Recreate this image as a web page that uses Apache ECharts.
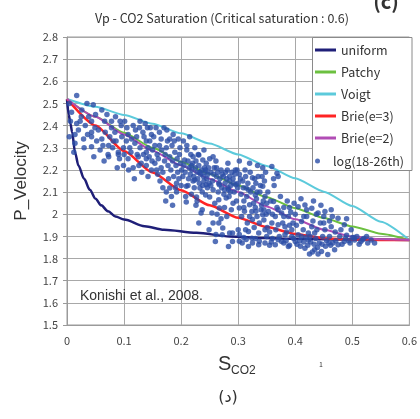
<!DOCTYPE html>
<html>
<head>
<meta charset="utf-8">
<script src="https://cdn.jsdelivr.net/npm/echarts@6/dist/echarts.min.js"></script>
<style>html,body{margin:0;padding:0;background:#fff}#c{width:420px;height:419px}</style>
</head>
<body>
<div id="c"></div>
<script>
// ---- data ----
var xTicks = [0, 0.1, 0.2, 0.3, 0.4, 0.5, 0.6];
var yTicks = [1.5, 1.6, 1.7, 1.8, 1.9, 2, 2.1, 2.2, 2.3, 2.4, 2.5, 2.6, 2.7, 2.8];

var uniformS  = [0, 0.003, 0.006, 0.009, 0.014, 0.02, 0.03, 0.04, 0.05, 0.06, 0.072, 0.085, 0.1, 0.136, 0.17, 0.227, 0.285, 0.343, 0.4, 0.5, 0.6];
var uniformVp = [2.52, 2.45, 2.41, 2.37, 2.28, 2.22, 2.16, 2.11, 2.07, 2.04, 2.013, 1.99, 1.976, 1.946, 1.93, 1.916, 1.90, 1.893, 1.889, 1.886, 1.884];

var patchyS  = [0, 0.05, 0.1, 0.15, 0.2, 0.25, 0.3, 0.35, 0.4, 0.45, 0.5, 0.55, 0.6];
var patchyVp = [2.52, 2.44, 2.368, 2.30, 2.237, 2.182, 2.13, 2.077, 2.027, 1.983, 1.945, 1.912, 1.884];

var voigtS  = [0, 0.05, 0.1, 0.15, 0.2, 0.25, 0.3, 0.35, 0.4, 0.45, 0.5, 0.55, 0.6];
var voigtVp = [2.52, 2.485, 2.448, 2.408, 2.365, 2.319, 2.27, 2.218, 2.162, 2.102, 2.037, 1.966, 1.884];

var brie3S  = [0, 0.05, 0.1, 0.15, 0.2, 0.25, 0.3, 0.35, 0.4, 0.45, 0.5, 0.55, 0.6];
var brie3Vp = [2.52, 2.40, 2.285, 2.188, 2.108, 2.04, 1.984, 1.942, 1.911, 1.892, 1.885, 1.884, 1.884];

var brie2S  = [0, 0.05, 0.1, 0.15, 0.2, 0.25, 0.3, 0.35, 0.4, 0.45, 0.5, 0.55, 0.6];
var brie2Vp = [2.52, 2.44, 2.36, 2.287, 2.22, 2.16, 2.10, 2.035, 1.977, 1.93, 1.899, 1.887, 1.884];

var logPoints = [
[0.004,2.50],[0.017,2.536],[0.035,2.50],[0.046,2.494],[0.006,2.42],[0.017,2.41],[0.032,2.40],[0.043,2.42],[0.049,2.39],[0.014,2.36],[0.029,2.34],[0.043,2.35],[0.023,2.42],[0.02,2.38],[0.014,2.32],[0.043,2.305],[0.043,2.37],[0.008,2.46],[0.026,2.47],[0.038,2.44],[0.012,2.28],[0.03,2.30],[0.047,2.26],[0.025,2.44],[0.004,2.35],[0.036,2.36],[0.05,2.45],
[0.052,2.33],[0.061,2.47],[0.061,2.34],[0.063,2.31],[0.067,2.37],[0.072,2.27],[0.073,2.31],[0.073,2.26],[0.078,2.42],[0.078,2.39],[0.081,2.33],[0.084,2.37],[0.086,2.33],[0.09,2.28],[0.09,2.27],[0.093,2.42],[0.096,2.35],[0.099,2.30],[0.099,2.22],[0.058,2.29],[0.066,2.42],[0.07,2.45],[0.085,2.44],[0.092,2.25],[0.055,2.38],[0.08,2.30],[0.095,2.40],[0.088,2.21],[0.075,2.35],[0.065,2.24],
[0.101,2.42],[0.107,2.36],[0.107,2.25],[0.113,2.34],[0.116,2.40],[0.116,2.21],[0.119,2.32],[0.125,2.26],[0.13,2.23],[0.133,2.37],[0.139,2.33],[0.139,2.28],[0.139,2.22],[0.139,2.25],[0.142,2.17],[0.148,2.36],[0.148,2.20],[0.105,2.39],[0.11,2.30],[0.12,2.38],[0.123,2.27],[0.127,2.39],[0.128,2.30],[0.131,2.19],[0.135,2.35],[0.137,2.41],[0.142,2.30],[0.144,2.26],[0.146,2.39],[0.104,2.33],[0.112,2.28],[0.122,2.35],[0.126,2.22],[0.134,2.27],[0.145,2.33],[0.149,2.24],[0.108,2.20],[0.118,2.16],[0.1,2.27],[0.128,2.42],[0.141,2.39],[0.15,2.29],
[0.154,2.31],[0.154,2.23],[0.159,2.18],[0.162,2.37],[0.165,2.34],[0.165,2.21],[0.17,2.39],[0.174,2.30],[0.174,2.10],[0.18,2.34],[0.18,2.118],[0.186,2.36],[0.192,2.14],[0.195,2.34],[0.198,2.30],[0.156,2.39],[0.158,2.27],[0.16,2.25],[0.163,2.15],[0.166,2.29],[0.168,2.19],[0.171,2.24],[0.172,2.27],[0.175,2.38],[0.177,2.22],[0.178,2.16],[0.18,2.26],[0.182,2.20],[0.184,2.31],[0.185,2.24],[0.187,2.17],[0.189,2.28],[0.19,2.12],[0.191,2.22],[0.193,2.25],[0.194,2.19],[0.196,2.16],[0.197,2.27],[0.199,2.23],[0.2,2.13],[0.152,2.35],[0.157,2.20],[0.168,2.12],[0.173,2.06],[0.183,2.08],[0.188,2.33],[0.176,2.33],[0.162,2.31],[0.192,2.10],[0.185,2.04],
[0.206,2.245],[0.209,2.126],[0.209,2.055],[0.21,2.31],[0.21,2.29],[0.221,2.26],[0.221,2.15],[0.227,2.078],[0.23,2.27],[0.231,2.267],[0.233,2.118],[0.235,2.006],[0.237,2.02],[0.238,2.245],[0.243,2.087],[0.244,2.23],[0.244,2.133],[0.249,1.93],[0.201,2.20],[0.203,2.17],[0.205,2.22],[0.207,2.19],[0.212,2.24],[0.213,2.16],[0.214,2.21],[0.216,2.18],[0.217,2.27],[0.219,2.20],[0.22,2.23],[0.222,2.17],[0.223,2.12],[0.225,2.21],[0.226,2.24],[0.228,2.19],[0.229,2.16],[0.231,2.22],[0.232,2.14],[0.234,2.18],[0.236,2.20],[0.237,2.10],[0.239,2.17],[0.24,2.15],[0.241,2.21],[0.242,2.19],[0.245,2.16],[0.246,2.12],[0.247,2.18],[0.248,2.21],[0.249,2.14],[0.231,1.96],[0.218,2.09],[0.226,2.04],[0.204,2.33],[0.215,2.35],[0.224,2.30],[0.24,2.29],[0.25,2.25],[0.208,2.08],[0.228,2.06],
[0.212,2.13],[0.218,2.22],[0.224,2.155],[0.233,2.19],[0.238,2.13],[0.243,2.20],
[0.254,2.005],[0.256,2.26],[0.256,2.11],[0.25,2.078],[0.256,1.96],[0.259,2.05],[0.26,1.877],[0.261,2.24],[0.261,1.908],[0.266,2.065],[0.266,1.96],[0.267,2.133],[0.267,2.028],[0.273,1.938],[0.272,1.907],[0.279,2.073],[0.28,1.99],[0.282,2.23],[0.283,2.11],[0.283,1.854],[0.285,2.17],[0.285,2.15],[0.285,1.915],[0.29,1.877],[0.29,1.915],[0.291,2.05],[0.296,2.133],[0.3,2.14],[0.3,1.93],[0.252,2.19],[0.255,2.15],[0.258,2.21],[0.262,2.17],[0.264,2.19],[0.265,2.10],[0.268,2.16],[0.27,2.20],[0.271,2.12],[0.274,2.17],[0.275,2.09],[0.277,2.14],[0.278,2.19],[0.28,2.16],[0.282,2.12],[0.284,2.08],[0.287,2.13],[0.289,2.19],[0.291,2.16],[0.293,2.10],[0.294,2.18],[0.297,2.06],[0.298,2.20],[0.276,2.03],[0.288,2.02],[0.263,2.00],[0.27,1.98],
[0.252,2.13],[0.257,2.18],[0.262,2.21],[0.266,2.14],[0.272,2.18],[0.276,2.11],[0.281,2.20],[0.286,2.10],[0.292,2.14],[0.295,2.20],[0.299,2.12],
[0.302,2.24],[0.302,2.18],[0.302,2.028],[0.302,1.908],[0.302,1.878],[0.307,1.87],[0.311,2.013],[0.314,2.118],[0.314,1.886],[0.318,2.11],[0.318,1.922],[0.318,1.854],[0.32,2.23],[0.32,2.043],[0.324,2.012],[0.324,1.892],[0.325,2.165],[0.325,1.976],[0.325,1.87],[0.33,2.087],[0.331,2.14],[0.331,2.013],[0.333,1.99],[0.334,2.22],[0.336,1.915],[0.336,1.862],[0.337,1.96],[0.337,1.878],[0.341,2.042],[0.343,2.21],[0.343,2.126],[0.343,1.998],[0.345,1.974],[0.347,2.08],[0.347,1.93],[0.347,1.87],[0.305,2.09],[0.308,2.15],[0.31,2.06],[0.312,2.20],[0.315,2.08],[0.316,1.96],[0.322,2.10],[0.327,2.05],[0.328,1.94],[0.332,2.07],[0.335,2.17],[0.338,2.10],[0.34,2.02],[0.344,2.06],[0.346,2.15],[0.349,2.00],[0.306,1.99],[0.313,1.93],[0.348,2.19],
[0.304,2.16],[0.309,2.12],[0.313,2.17],[0.317,2.14],[0.321,2.19],[0.326,2.12],[0.329,2.16],[0.333,2.10],[0.339,2.13],[0.342,2.17],[0.345,2.02],[0.33,2.03],[0.32,1.99],[0.31,2.03],[0.33,1.89],[0.31,1.895],
[0.353,2.012],[0.359,2.215],[0.359,1.96],[0.362,2.057],[0.365,1.99],[0.365,1.862],[0.368,2.185],[0.37,2.17],[0.37,1.952],[0.376,2.005],[0.376,1.877],[0.382,1.944],[0.382,1.907],[0.388,1.99],[0.388,1.854],[0.394,1.93],[0.394,1.90],[0.40,1.877],[0.352,2.10],[0.355,1.92],[0.357,2.06],[0.36,1.89],[0.363,2.13],[0.366,1.93],[0.368,2.03],[0.372,1.90],[0.374,2.08],[0.378,1.96],[0.38,2.03],[0.384,1.88],[0.386,2.06],[0.39,1.95],[0.392,2.01],[0.396,1.96],[0.398,2.05],[0.355,1.86],[0.385,1.92],[0.362,2.16],[0.351,1.94],
[0.36,2.0],[0.37,2.02],[0.38,1.99],[0.39,2.03],[0.4,2.0],[0.35,2.05],[0.38,1.87],[0.39,1.86],[0.397,1.89],[0.35,1.9],[0.358,1.875],[0.37,1.885],
[0.405,2.034],[0.405,1.907],[0.411,1.967],[0.411,1.90],[0.417,2.042],[0.417,1.847],[0.423,1.884],[0.423,1.915],[0.429,2.027],[0.429,1.944],[0.434,1.915],[0.434,1.84],[0.44,2.005],[0.446,1.832],[0.402,1.95],[0.408,1.88],[0.414,1.93],[0.42,1.99],[0.422,1.86],[0.426,1.90],[0.431,1.97],[0.436,1.89],[0.438,1.93],[0.442,1.87],[0.444,1.96],[0.448,1.90],[0.41,2.07],[0.432,2.06],[0.445,2.04],[0.425,1.82],
[0.403,1.865],[0.409,1.855],[0.415,1.875],[0.419,1.895],[0.427,1.875],[0.433,1.865],[0.439,1.85],[0.447,1.865],[0.43,1.83],[0.44,1.82],[0.415,1.99],[0.42,2.02],[0.437,2.0],
[0.452,2.012],[0.452,1.93],[0.457,1.818],[0.463,2.02],[0.463,1.944],[0.469,1.84],[0.475,1.982],[0.475,1.862],[0.486,1.952],[0.486,1.877],[0.498,1.93],[0.504,1.884],[0.515,1.877],[0.527,1.87],[0.533,1.884],[0.539,1.87],[0.455,1.88],[0.46,1.90],[0.466,1.87],[0.47,1.92],[0.478,1.90],[0.48,1.93],[0.49,1.905],[0.494,1.88],[0.5,1.895],[0.508,1.90],[0.512,1.865],[0.52,1.89],[0.45,1.96],[0.465,1.99],[0.49,1.98],
[0.453,1.855],[0.459,1.87],[0.462,1.86],[0.471,1.88],[0.482,1.865],[0.488,1.89],[0.496,1.87],[0.503,1.895],[0.518,1.885],[0.525,1.9],[0.45,1.99],[0.46,1.97]
];

var seriesNames = ['uniform', 'Patchy', 'Voigt', 'Brie(e=3)', 'Brie(e=2)', 'log(18-26th)'];
var lineColors = ['#1f1f78', '#6cc040', '#5ccadb', '#ff2424', '#b14db5'];
var pointColor = '#2b4ea6';

function pairs(xs, ys) { return xs.map(function (x, i) { return [x, ys[i]]; }); }

var chart = echarts.init(document.getElementById('c'), null, { renderer: 'canvas' });
var labelFont = '"Noto Sans CJK JP", "Noto Sans", sans-serif';

function lineSeries(idx, xs, ys, w, sm) {
  return {
    name: seriesNames[idx], type: 'line', data: pairs(xs, ys),
    showSymbol: false, symbol: 'none', smooth: sm, smoothMonotone: 'x',
    lineStyle: { color: lineColors[idx], width: w }, itemStyle: { color: lineColors[idx] },
    z: 3, animation: false
  };
}

chart.setOption({
  animation: false,
  backgroundColor: '#fff',
  grid: { left: 67, right: 8, top: 37, bottom: 94, show: true, borderColor: '#9a9a9a', borderWidth: 1, backgroundColor: '#fff' },
  xAxis: {
    type: 'value', min: xTicks[0], max: xTicks[xTicks.length - 1], interval: 0.1,
    axisLine: { show: true, lineStyle: { color: '#9a9a9a' } },
    axisTick: { show: false },
    splitLine: { show: true, lineStyle: { color: '#a8a8a8', width: 1 } },
    axisLabel: { margin: 10, color: '#444', fontSize: 11, fontFamily: labelFont,
      formatter: function (v) { return String(Math.round(v * 10) / 10); } }
  },
  yAxis: {
    type: 'value', min: yTicks[0], max: yTicks[yTicks.length - 1], interval: 0.1,
    name: 'P_Velocity', nameLocation: 'middle', nameRotate: 90, nameGap: 37,
    nameTextStyle: { fontSize: 17, color: '#333', fontFamily: '"Liberation Sans", Arial, sans-serif' },
    axisLine: { show: true, lineStyle: { color: '#9a9a9a' } },
    axisTick: { show: true, length: 4, lineStyle: { color: '#9a9a9a' } },
    splitLine: { show: true, lineStyle: { color: '#a8a8a8', width: 1 } },
    axisLabel: { margin: 9, color: '#444', fontSize: 11, fontFamily: labelFont,
      formatter: function (v) { return String(Math.round(v * 10) / 10); } }
  },
  legend: [
    { orient: 'vertical', left: 315, top: 43, padding: 0, itemGap: 8, itemWidth: 21, itemHeight: 3,
      data: seriesNames.slice(0, 5).map(function (n) { return { name: n, icon: 'rect' }; }),
      textStyle: { fontSize: 12.5, color: '#333', fontFamily: labelFont, lineHeight: 14 }, z: 6 },
    { orient: 'vertical', left: 315, top: 154, padding: 0, itemWidth: 21, itemHeight: 5,
      data: [{ name: seriesNames[5], icon: 'circle' }],
      textStyle: { fontSize: 12.5, color: '#333', fontFamily: labelFont, lineHeight: 14 }, z: 6 }
  ],
  graphic: [
    { type: 'rect', shape: { x: 312.5, y: 37.5, width: 99.5, height: 133 }, style: { fill: '#fff', stroke: '#8a8a8a', lineWidth: 1 }, z: 5 },
    { type: 'text', z: 5, style: { text: 'Vp - CO2 Saturation (Critical saturation : 0.6)', x: 222, y: 18, textAlign: 'center', textVerticalAlign: 'middle', fontSize: 12.5, fontFamily: labelFont, fill: '#333' } },
    { type: 'text', z: 5, style: { text: '(c)', x: 386, y: 1, textAlign: 'center', textVerticalAlign: 'middle', fontSize: 20, fontWeight: 'bold', fontFamily: labelFont, fill: '#333' } },
    { type: 'text', z: 5, style: { text: 'Konishi et al., 2008.', x: 80, y: 296, textAlign: 'left', textVerticalAlign: 'middle', fontSize: 14, fontFamily: '"Liberation Sans", Arial, sans-serif', fill: '#333' } },
    { type: 'text', z: 5, style: { text: 'S', x: 218, y: 364, textAlign: 'left', textVerticalAlign: 'middle', fontSize: 20, fontFamily: '"Liberation Sans", Arial, sans-serif', fill: '#333' } },
    { type: 'text', z: 5, style: { text: 'CO2', x: 231, y: 371, textAlign: 'left', textVerticalAlign: 'middle', fontSize: 12, fontFamily: '"Liberation Sans", Arial, sans-serif', fill: '#333' } },
    { type: 'text', z: 5, style: { text: '1', x: 321, y: 364, textAlign: 'center', textVerticalAlign: 'middle', fontSize: 7, fontFamily: labelFont, fill: '#333' } },
    { type: 'text', z: 5, style: { text: '(د)', x: 228, y: 398, textAlign: 'center', textVerticalAlign: 'middle', fontSize: 16, fontFamily: '"DejaVu Sans", "Noto Sans", sans-serif', fill: '#333' } }
  ],
  series: [
    lineSeries(0, uniformS, uniformVp, 2.5, 0.3),
    lineSeries(1, patchyS, patchyVp, 2, 0.2),
    lineSeries(2, voigtS, voigtVp, 2, 0.2),
    lineSeries(3, brie3S, brie3Vp, 2.5, 0.2),
    lineSeries(4, brie2S, brie2Vp, 2, 0.2),
    { name: seriesNames[5], type: 'scatter', data: logPoints, symbolSize: 5.5,
      itemStyle: { color: pointColor }, z: 4, animation: false }
  ]
});
</script>
</body>
</html>
